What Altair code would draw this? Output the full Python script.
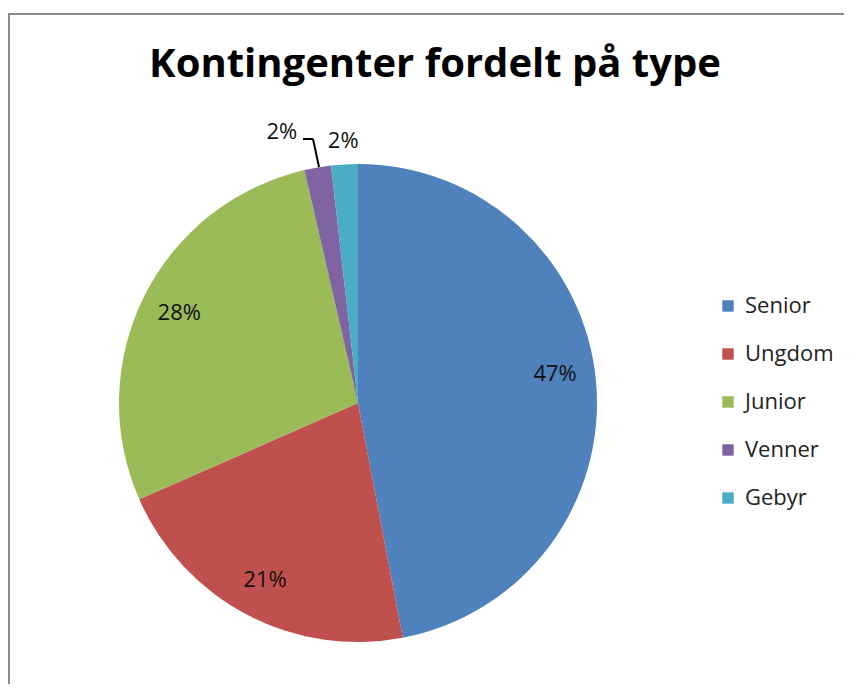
import altair as alt
import pandas as pd

TITLE = "Kontingenter fordelt på type"
categories = ["Senior", "Ungdom", "Junior", "Venner", "Gebyr"]
shares = [47.0, 21.4, 28.0, 1.8, 1.8]
colors = ["#4F81BD", "#C0504D", "#9BBB59", "#8064A2", "#4BACC6"]

df = pd.DataFrame({
    "type": categories,
    "share": shares,
    "idx": list(range(len(categories))),
})

W, H = 836, 676
CX, CY = 350, 395
R = 239
LABEL_FONT = "Open Sans"

base = alt.Chart(df).encode(
    theta=alt.Theta("share:Q", stack=True),
    order=alt.Order("idx:Q"),
)

color = alt.Color(
    "type:N",
    scale=alt.Scale(domain=categories, range=colors),
    legend=alt.Legend(
        title=None,
        orient="none",
        legendX=709,
        legendY=287,
        symbolType="square",
        symbolSize=130,
        symbolStrokeWidth=0,
        symbolOpacity=1,
        labelFont=LABEL_FONT,
        labelFontSize=22,
        labelColor="#222222",
        labelOffset=6,
        rowPadding=26,
    ),
)

arcs = base.mark_arc(radius=R, strokeWidth=0).encode(
    color=color, x=alt.value(CX), y=alt.value(CY)
)


def labels(cond, radius, dx=0, dy=0):
    return (
        base.transform_calculate(
            lab=f"({cond}) ? format(datum.share/100, '.0%') : ''"
        )
        .mark_text(radius=radius, dx=dx, dy=dy, font=LABEL_FONT, fontSize=22,
                   color="#111111")
        .encode(text=alt.Text("lab:N"), x=alt.value(CX), y=alt.value(CY))
    )


lab_senior = labels("datum.type == 'Senior'", 198, 0, -10)
lab_inner = labels("datum.type == 'Ungdom' || datum.type == 'Junior'", 200)
lab_gebyr = labels("datum.type == 'Gebyr'", 262)
lab_venner = labels("datum.type == 'Venner'", 262, -32, -13)

one = pd.DataFrame({"k": [0]})


def seg(x1, y1, x2, y2, col, sw):
    return alt.Chart(one).mark_rule(color=col, strokeWidth=sw).encode(
        x=alt.value(x1), y=alt.value(y1), x2=alt.value(x2), y2=alt.value(y2)
    )


def band(x1, y1, x2, y2, col):
    return alt.Chart(one).mark_rect(color=col, strokeWidth=0).encode(
        x=alt.value(x1), y=alt.value(y1), x2=alt.value(x2), y2=alt.value(y2)
    )


leader_h = seg(295, 131, 305, 131, "black", 2)
leader_v = seg(305, 131, 311, 159, "black", 2)
border_l = band(0, 5, 2, H, "#8a8a8a")
border_t = band(0, 5, W, 7, "#8a8a8a")

title = alt.Chart(pd.DataFrame({"t": [TITLE]})).mark_text(
    font="Open Sans", fontSize=40, fontWeight="bold", color="black", baseline="alphabetic"
).encode(text="t:N", x=alt.value(427), y=alt.value(69))

chart = alt.layer(
    border_l, border_t, arcs, lab_senior, lab_inner, lab_gebyr, lab_venner,
    leader_h, leader_v, title
).properties(
    width=W, height=H, autosize=alt.AutoSizeParams(type="none"), padding=0
).configure_view(stroke=None)

chart.save("out.html", embed_options={"renderer": "svg", "actions": False})
